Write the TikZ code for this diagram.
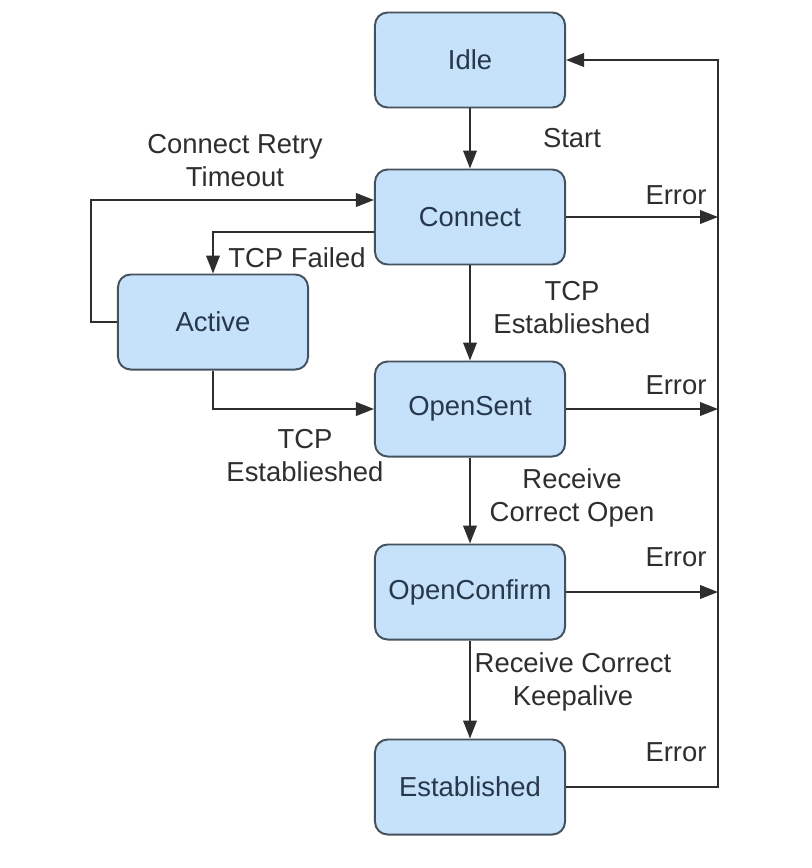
\documentclass[tikz,border=0pt]{standalone}
\usepackage{fontspec}
\setmainfont{Liberation Sans}
\usetikzlibrary{arrows.meta}
\definecolor{boxfill}{HTML}{C6E1FA}
\definecolor{boxline}{HTML}{45525E}
\definecolor{boxtext}{HTML}{26384A}
\definecolor{wire}{HTML}{2E2E2E}
\tikzset{
  state/.style={draw=boxline, fill=boxfill, line width=1.4pt, rounded corners=9pt,
    minimum width=4.75cm, minimum height=2.375cm, text=boxtext,
    font=\fontsize{19.5}{23.5}\selectfont},
  wirearrow/.style={draw=wire, line width=1.3pt, -{Triangle[length=0.45cm,width=0.34cm]}},
  wireplain/.style={draw=wire, line width=1.3pt},
  lbl/.style={text=wire, align=center, font=\fontsize{19.5}{23.5}\selectfont}
}
\begin{document}
\begin{tikzpicture}[x={0.025cm}, y={-0.025cm}]
            \useasboundingbox (0,0) rectangle (811,868);
            % states
            \node[state] (idle) at (470,60) {Idle};
            \node[state] (connect) at (470,217) {Connect};
            \node[state] (active) at (213,322) {Active};
            \node[state] (opensent) at (470,409) {OpenSent};
            \node[state] (openconfirm) at (470,592) {OpenConfirm};
            \node[state] (established) at (470,787) {Established};
            % error bus
            \coordinate (errA) at (718,217);
            \coordinate (errB) at (718,409);
            \coordinate (errC) at (718,592);
            \coordinate (errD) at (718,787);
            \draw[wirearrow] (idle) -- (connect);
            \draw[wirearrow] (connect) -- (opensent);
            \draw[wirearrow] (opensent) -- (openconfirm);
            \draw[wirearrow] (openconfirm) -- (established);
            \draw[wirearrow] (connect.east) -- (errA);
            \draw[wirearrow] (opensent.east) -- (errB);
            \draw[wirearrow] (openconfirm.east) -- (errC);
            \draw[wirearrow] (established.east) -- (errD) |- (idle.east);
            \draw[wirearrow] (active.west) -- ++(-26,0) |- ([yshift=0.425cm]connect.west);
            \draw[wirearrow] ([yshift=-0.375cm]connect.west) -| (active.north);
            \draw[wirearrow] (active.south) |- (opensent.west);
            % labels
            \node[lbl] (lstart) at (572,138) {Start};
            \node[lbl] (lretry) at (235,161) {Connect Retry\\Timeout};
            \node[lbl] (lfail) at (297,258) {TCP Failed};
            \node[lbl] (ltcpa) at (572,308) {TCP\\Establieshed};
            \node[lbl] (ltcpb) at (305,456) {TCP\\Establieshed};
            \node[lbl] (lopen) at (572,498) {Receive\\Correct Open};
            \node[lbl] (lkeep) at (573,682) {Receive Correct\\Keepalive};
            \foreach \y/\n in {195/ea,385/eb,557/ec,752/ed} {
                \node[lbl] (\n) at (676,\y) {Error};
            }
        \end{tikzpicture}
\end{document}
